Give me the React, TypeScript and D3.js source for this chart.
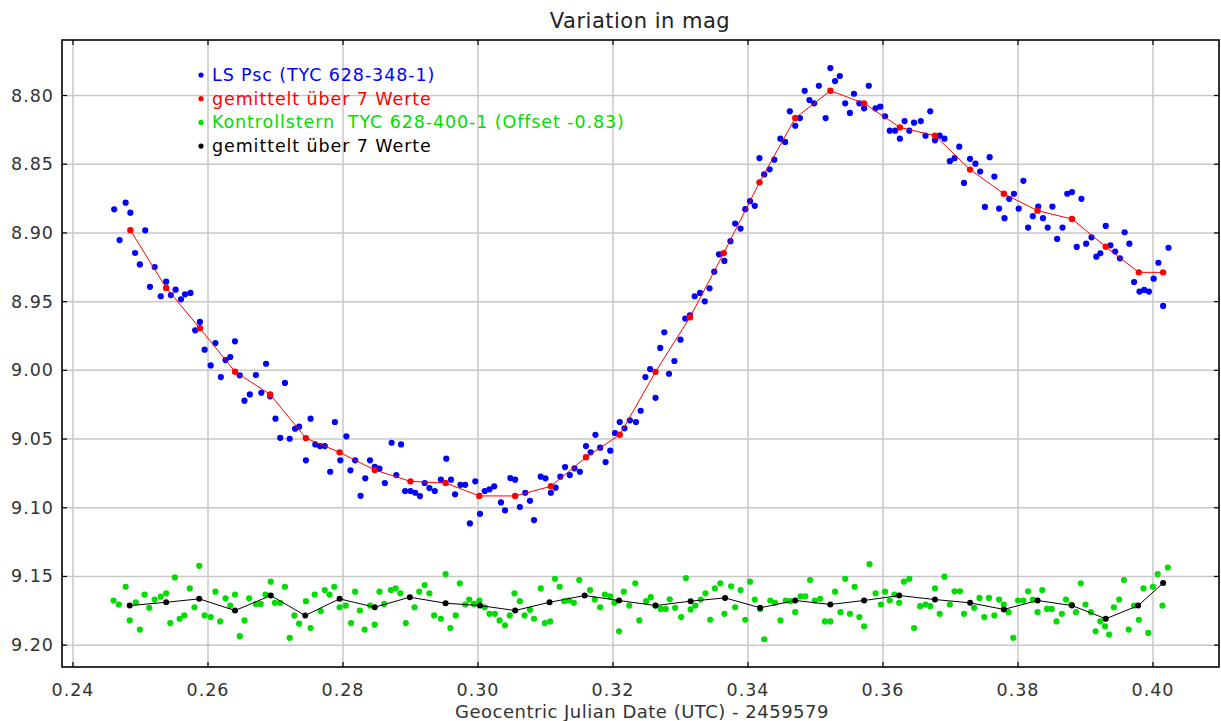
import * as React from 'react'
import * as d3 from 'd3'

// LS Psc, einzelne Messungen
const blueT = [
  0.2461, 0.2469, 0.2478, 0.2485, 0.2492, 0.2499, 0.2507, 0.2514, 0.2521, 0.2530,
  0.2538, 0.2545, 0.2552, 0.2560, 0.2566, 0.2574, 0.2581, 0.2588, 0.2595, 0.2604,
  0.2611, 0.2619, 0.2626, 0.2633, 0.2640, 0.2647, 0.2654, 0.2662, 0.2671, 0.2679,
  0.2686, 0.2692, 0.2700, 0.2707, 0.2714, 0.2721, 0.2729, 0.2735, 0.2745, 0.2752,
  0.2759, 0.2766, 0.2773, 0.2781, 0.2788, 0.2796, 0.2805, 0.2811, 0.2818, 0.2826,
  0.2833, 0.2840, 0.2847, 0.2854, 0.2862, 0.2872, 0.2879, 0.2886, 0.2892, 0.2900,
  0.2907, 0.2914, 0.2921, 0.2928, 0.2936, 0.2945, 0.2953, 0.2960, 0.2966, 0.2974,
  0.2981, 0.2988, 0.2996, 0.3003, 0.3010, 0.3017, 0.3024, 0.3034, 0.3040, 0.3048,
  0.3055, 0.3062, 0.3070, 0.3077, 0.3083, 0.3093, 0.3100, 0.3108, 0.3115, 0.3122,
  0.3129, 0.3136, 0.3143, 0.3151, 0.3160, 0.3167, 0.3174, 0.3181, 0.3189, 0.3196,
  0.3203, 0.3210, 0.3217, 0.3225, 0.3234, 0.3241, 0.3248, 0.3255, 0.3263, 0.3270,
  0.3276, 0.3283, 0.3291, 0.3300, 0.3307, 0.3314, 0.3321, 0.3329, 0.3336, 0.3343,
  0.3350, 0.3357, 0.3365, 0.3374, 0.3381, 0.3389, 0.3396, 0.3403, 0.3410, 0.3417,
  0.3424, 0.3432, 0.3439, 0.3448, 0.3455, 0.3462, 0.3470, 0.3477, 0.3484, 0.3491,
  0.3498, 0.3505, 0.3515, 0.3522, 0.3529, 0.3536, 0.3544, 0.3551, 0.3557, 0.3565,
  0.3572, 0.3579, 0.3589, 0.3596, 0.3603, 0.3610, 0.3618, 0.3625, 0.3632, 0.3639,
  0.3646, 0.3656, 0.3663, 0.3670, 0.3677, 0.3684, 0.3691, 0.3699, 0.3706, 0.3713,
  0.3720, 0.3729, 0.3737, 0.3744, 0.3751, 0.3758, 0.3765, 0.3772, 0.3780, 0.3787,
  0.3794, 0.3801, 0.3808, 0.3815, 0.3822, 0.3830, 0.3837, 0.3844, 0.3851, 0.3858,
  0.3866, 0.3873, 0.3880, 0.3887, 0.3894, 0.3901, 0.3909, 0.3916, 0.3922, 0.3930,
  0.3937, 0.3944, 0.3951, 0.3958, 0.3965, 0.3972, 0.3980, 0.3987, 0.3994, 0.4001,
  0.4008, 0.4015, 0.4023,
]
const blueMag = [
  8.8828, 8.9052, 8.8780, 8.8853, 8.9146, 8.9229, 8.8981, 8.9392, 8.9248, 8.9461,
  8.9355, 8.9452, 8.9413, 8.9483, 8.9447, 8.9437, 8.9709, 8.9648, 8.9850, 8.9964,
  8.9801, 9.0049, 8.9925, 8.9903, 8.9789, 9.0036, 9.0221, 9.0175, 9.0034, 9.0163,
  8.9952, 9.0189, 9.0352, 9.0491, 9.0092, 9.0498, 9.0425, 9.0410, 9.0655, 9.0352,
  9.0539, 9.0551, 9.0551, 9.0738, 9.0376, 9.0655, 9.0480, 9.0728, 9.0655, 9.0913,
  9.0786, 9.0655, 9.0702, 9.0716, 9.0820, 9.0527, 9.0762, 9.0539, 9.0878, 9.0878,
  9.0891, 9.0915, 9.0820, 9.0857, 9.0878, 9.0796, 9.0643, 9.0796, 9.0902, 9.0833,
  9.0833, 9.1114, 9.0808, 9.1044, 9.0878, 9.0866, 9.0844, 9.0961, 9.1019, 9.0784,
  9.0796, 9.0995, 9.0891, 9.0949, 9.1090, 9.0774, 9.0786, 9.0891, 9.0854, 9.0774,
  9.0704, 9.0762, 9.0713, 9.0738, 9.0551, 9.0597, 9.0469, 9.0563, 9.0667, 9.0585,
  9.0456, 9.0376, 9.0422, 9.0364, 9.0376, 9.0294, 9.0049, 8.9991, 9.0200, 8.9837,
  8.9723, 9.0025, 8.9932, 8.9777, 8.9623, 8.9599, 8.9461, 8.9437, 8.9498, 8.9403,
  8.9282, 8.9156, 8.9204, 8.9060, 8.8932, 8.8968, 8.8827, 8.8769, 8.8803, 8.8455,
  8.8574, 8.8537, 8.8467, 8.8314, 8.8338, 8.8115, 8.8220, 8.8164, 8.7966, 8.8033,
  8.8057, 8.7929, 8.8164, 8.7800, 8.7895, 8.7858, 8.8057, 8.8127, 8.7987, 8.8057,
  8.8093, 8.7929, 8.8093, 8.8081, 8.8151, 8.8256, 8.8256, 8.8314, 8.8186, 8.8256,
  8.8198, 8.8186, 8.8292, 8.8115, 8.8326, 8.8292, 8.8314, 8.8478, 8.8456, 8.8372,
  8.8636, 8.8461, 8.8496, 8.8553, 8.8811, 8.8449, 8.8590, 8.8823, 8.8893, 8.8752,
  8.8715, 8.8823, 8.8621, 8.8961, 8.8878, 8.8808, 8.8893, 8.8961, 8.8808, 8.9044,
  8.8961, 8.8715, 8.8703, 8.9102, 8.8752, 8.9078, 8.9032, 8.9173, 8.9149, 8.8949,
  8.9090, 8.9136, 8.9185, 8.8995, 8.9078, 8.9357, 8.9427, 8.9415, 8.9427, 8.9333,
  8.9217, 8.9531, 8.9108,
]

// gemittelt ueber 7 Werte (LS Psc)
const redT = [
  0.2485, 0.2538, 0.2588, 0.2640, 0.2692, 0.2745, 0.2795, 0.2847, 0.2900, 0.2952,
  0.3002, 0.3055, 0.3108, 0.3160, 0.3210, 0.3263, 0.3314, 0.3364, 0.3417, 0.3470,
  0.3522, 0.3572, 0.3625, 0.3677, 0.3729, 0.3779, 0.3829, 0.3880, 0.3930, 0.3979,
  0.4015,
]
const redMag = [
  8.8980, 8.9400, 8.9694, 9.0010, 9.0175, 9.0493, 9.0597, 9.0725, 9.0808, 9.0820,
  9.0914, 9.0914, 9.0844, 9.0633, 9.0469, 9.0011, 8.9614, 8.9148, 8.8632, 8.8164,
  8.7965, 8.8057, 8.8232, 8.8292, 8.8539, 8.8715, 8.8838, 8.8899, 8.9101, 8.9287,
  8.9287,
]

// Kontrollstern TYC 628-400-1 (Offset -0.83)
const greenT = [
  0.2460, 0.2468, 0.2478, 0.2484, 0.2493, 0.2499, 0.2506, 0.2513, 0.2521, 0.2530,
  0.2538, 0.2544, 0.2551, 0.2558, 0.2565, 0.2573, 0.2580, 0.2587, 0.2595, 0.2604,
  0.2611, 0.2618, 0.2626, 0.2633, 0.2640, 0.2647, 0.2654, 0.2661, 0.2671, 0.2678,
  0.2685, 0.2693, 0.2699, 0.2707, 0.2714, 0.2721, 0.2728, 0.2735, 0.2745, 0.2752,
  0.2758, 0.2767, 0.2773, 0.2780, 0.2787, 0.2795, 0.2804, 0.2812, 0.2818, 0.2825,
  0.2832, 0.2840, 0.2847, 0.2854, 0.2861, 0.2871, 0.2878, 0.2885, 0.2893, 0.2906,
  0.2913, 0.2921, 0.2928, 0.2935, 0.2945, 0.2952, 0.2959, 0.2967, 0.2973, 0.2981,
  0.2987, 0.2994, 0.3002, 0.3010, 0.3017, 0.3025, 0.3032, 0.3040, 0.3047, 0.3054,
  0.3062, 0.3069, 0.3077, 0.3083, 0.3093, 0.3099, 0.3107, 0.3114, 0.3121, 0.3128,
  0.3135, 0.3142, 0.3150, 0.3166, 0.3173, 0.3181, 0.3188, 0.3196, 0.3202, 0.3209,
  0.3216, 0.3224, 0.3233, 0.3239, 0.3249, 0.3256, 0.3263, 0.3271, 0.3278, 0.3284,
  0.3292, 0.3301, 0.3308, 0.3315, 0.3322, 0.3330, 0.3337, 0.3344, 0.3351, 0.3359,
  0.3365, 0.3375, 0.3381, 0.3389, 0.3396, 0.3403, 0.3410, 0.3418, 0.3424, 0.3433,
  0.3440, 0.3448, 0.3456, 0.3463, 0.3470, 0.3478, 0.3485, 0.3492, 0.3499, 0.3507,
  0.3514, 0.3522, 0.3529, 0.3537, 0.3544, 0.3551, 0.3558, 0.3565, 0.3572, 0.3580,
  0.3589, 0.3597, 0.3603, 0.3610, 0.3617, 0.3624, 0.3631, 0.3639, 0.3646, 0.3655,
  0.3663, 0.3670, 0.3677, 0.3684, 0.3691, 0.3699, 0.3706, 0.3714, 0.3720, 0.3735,
  0.3743, 0.3750, 0.3757, 0.3765, 0.3772, 0.3779, 0.3786, 0.3793, 0.3800, 0.3808,
  0.3815, 0.3822, 0.3829, 0.3836, 0.3843, 0.3850, 0.3857, 0.3865, 0.3871, 0.3879,
  0.3886, 0.3893, 0.3900, 0.3908, 0.3915, 0.3922, 0.3929, 0.3935, 0.3942, 0.3950,
  0.3957, 0.3964, 0.3972, 0.3979, 0.3986, 0.3993, 0.4000, 0.4007, 0.4014, 0.4022,
]
const greenMag = [
  9.1675, 9.1704, 9.1575, 9.1820, 9.1688, 9.1887, 9.1632, 9.1728, 9.1668, 9.1647,
  9.1623, 9.1839, 9.1507, 9.1808, 9.1784, 9.1587, 9.1724, 9.1423, 9.1784, 9.1796,
  9.1611, 9.1827, 9.1659, 9.1712, 9.1632, 9.1935, 9.1820, 9.1659, 9.1700, 9.1700,
  9.1632, 9.1538, 9.1692, 9.1692, 9.1575, 9.1947, 9.1784, 9.1844, 9.1680, 9.1875,
  9.1632, 9.1752, 9.1599, 9.1632, 9.1575, 9.1724, 9.1712, 9.1839, 9.1611, 9.1748,
  9.1887, 9.1712, 9.1851, 9.1611, 9.1700, 9.1599, 9.1587, 9.1623, 9.1839, 9.1724,
  9.1611, 9.1563, 9.1623, 9.1784, 9.1808, 9.1483, 9.1875, 9.1784, 9.1550, 9.1704,
  9.1668, 9.1700, 9.1675, 9.1724, 9.1772, 9.1772, 9.1820, 9.1856, 9.1784, 9.1623,
  9.1680, 9.1784, 9.1743, 9.1808, 9.1587, 9.1839, 9.1827, 9.1517, 9.1575, 9.1680,
  9.1675, 9.1692, 9.1526, 9.1599, 9.1668, 9.1724, 9.1632, 9.1644, 9.1692, 9.1899,
  9.1611, 9.1712, 9.1550, 9.1820, 9.1680, 9.1651, 9.1712, 9.1736, 9.1736, 9.1666,
  9.1728, 9.1796, 9.1512, 9.1740, 9.1712, 9.1668, 9.1623, 9.1815, 9.1587, 9.1550,
  9.1772, 9.1572, 9.1724, 9.1599, 9.1815, 9.1538, 9.1668, 9.1736, 9.1957, 9.1675,
  9.1692, 9.1820, 9.1675, 9.1680, 9.1760, 9.1644, 9.1644, 9.1526, 9.1675, 9.1663,
  9.1827, 9.1827, 9.1611, 9.1760, 9.1517, 9.1772, 9.1575, 9.1796, 9.1863, 9.1411,
  9.1623, 9.1704, 9.1611, 9.1675, 9.1632, 9.1692, 9.1538, 9.1517, 9.1875, 9.1716,
  9.1704, 9.1716, 9.1587, 9.1772, 9.1502, 9.1704, 9.1608, 9.1608, 9.1772, 9.1728,
  9.1656, 9.1796, 9.1656, 9.1784, 9.1668, 9.1704, 9.1760, 9.1947, 9.1675, 9.1675,
  9.1608, 9.1668, 9.1760, 9.1599, 9.1736, 9.1736, 9.1827, 9.1772, 9.1668, 9.1704,
  9.1760, 9.1550, 9.1704, 9.1760, 9.1899, 9.1827, 9.1863, 9.1923, 9.1724, 9.1668,
  9.1526, 9.1887, 9.1712, 9.1815, 9.1587, 9.1911, 9.1575, 9.1483, 9.1712, 9.1435,
]

// gemittelt ueber 7 Werte (Kontrollstern)
const blackT = [
  0.2484, 0.2538, 0.2587, 0.2640, 0.2693, 0.2744, 0.2795, 0.2847, 0.2899, 0.2952,
  0.3003, 0.3055, 0.3106, 0.3158, 0.3209, 0.3263, 0.3315, 0.3366, 0.3418, 0.3470,
  0.3522, 0.3572, 0.3624, 0.3677, 0.3729, 0.3779, 0.3829, 0.3880, 0.3930, 0.3978,
  0.4015,
]
const blackMag = [
  9.1712, 9.1688, 9.1663, 9.1748, 9.1639, 9.1784, 9.1663, 9.1724, 9.1651, 9.1695,
  9.1712, 9.1748, 9.1688, 9.1639, 9.1675, 9.1712, 9.1680, 9.1656, 9.1728, 9.1675,
  9.1704, 9.1675, 9.1639, 9.1668, 9.1692, 9.1740, 9.1675, 9.1712, 9.1808, 9.1712,
  9.1548,
]

const xTicks = [0.24, 0.26, 0.28, 0.3, 0.32, 0.34, 0.36, 0.38, 0.4]
const yTicks = [8.8, 8.85, 8.9, 8.95, 9.0, 9.05, 9.1, 9.15, 9.2]

const legendItems = [
  { label: 'LS Psc (TYC 628-348-1)', color: '#0000ff' },
  { label: 'gemittelt über 7 Werte', color: '#ff0000' },
  { label: 'Kontrollstern  TYC 628-400-1 (Offset -0.83)', color: '#00dd00' },
  { label: 'gemittelt über 7 Werte', color: '#000000' },
]

const W = 1221
const H = 721
const left = 62
const right = 1219
const top = 40
const bottom = 667
const FONT = '"DejaVu Sans", sans-serif'

const App: React.FC = () => {
  const x = d3.scaleLinear().domain([0.23837, 0.40978]).range([left, right])
  const y = d3.scaleLinear().domain([8.7596, 9.2159]).range([top, bottom])

  const line = d3.line<[number, number]>()
    .x(d => x(d[0]))
    .y(d => y(d[1]))

  const red: [number, number][] = redT.map((t, i) => [t, redMag[i]])
  const black: [number, number][] = blackT.map((t, i) => [t, blackMag[i]])

  return (
    <svg width={W} height={H} style={{ position: 'absolute', left: 0, top: 0, background: '#fff' }}>
      <rect x={0} y={0} width={W} height={H} fill="#fff" />
      <text x={640} y={28} textAnchor="middle" fontFamily={FONT} fontSize={21} letterSpacing={0.5} fill="#222">
        Variation in mag
      </text>

      {/* grid */}
      <g stroke="#c8c8c8" strokeWidth={1.5}>
        {xTicks.map(t => (
          <line key={'gx' + t} x1={x(t)} x2={x(t)} y1={top} y2={bottom} />
        ))}
        {yTicks.map(t => (
          <line key={'gy' + t} x1={left} x2={right} y1={y(t)} y2={y(t)} />
        ))}
      </g>

      {/* inner tick marks */}
      <g stroke="#000" strokeWidth={1.2}>
        {xTicks.map(t => (
          <g key={'tx' + t}>
            <line x1={x(t)} x2={x(t)} y1={bottom} y2={bottom - 5} />
            <line x1={x(t)} x2={x(t)} y1={top} y2={top + 5} />
          </g>
        ))}
        {yTicks.map(t => (
          <g key={'ty' + t}>
            <line x1={left} x2={left + 5} y1={y(t)} y2={y(t)} />
            <line x1={right} x2={right - 5} y1={y(t)} y2={y(t)} />
          </g>
        ))}
      </g>

      {/* data points */}
      <g fill="#00dd00">
        {greenT.map((t, i) => (
          <circle key={'g' + i} cx={x(t)} cy={y(greenMag[i])} r={3.1} />
        ))}
      </g>
      <g fill="#0000ff">
        {blueT.map((t, i) => (
          <circle key={'b' + i} cx={x(t)} cy={y(blueMag[i])} r={3.1} />
        ))}
      </g>

      {/* averages */}
      <path d={line(black) ?? ''} fill="none" stroke="#000" strokeWidth={1} />
      <g fill="#000">
        {black.map((d, i) => (
          <circle key={'k' + i} cx={x(d[0])} cy={y(d[1])} r={3} />
        ))}
      </g>
      <path d={line(red) ?? ''} fill="none" stroke="#ff0000" strokeWidth={1} />
      <g fill="#ff0000">
        {red.map((d, i) => (
          <circle key={'r' + i} cx={x(d[0])} cy={y(d[1])} r={3.2} />
        ))}
      </g>

      {/* frame */}
      <rect x={left} y={top} width={right - left} height={bottom - top} fill="none" stroke="#000" strokeWidth={1.6} />

      {/* tick labels */}
      <g fontFamily={FONT} fontSize={17.5} letterSpacing={1} fill="#333">
        {xTicks.map(t => (
          <text key={'lx' + t} x={x(t)} y={696} textAnchor="middle">{d3.format('.2f')(t)}</text>
        ))}
        {yTicks.map(t => (
          <text key={'ly' + t} x={54} y={y(t) + 6} textAnchor="end">{d3.format('.2f')(t)}</text>
        ))}
      </g>
      <text x={642} y={718} textAnchor="middle" fontFamily={FONT} fontSize={18} letterSpacing={0.5} fill="#333">
        Geocentric Julian Date (UTC) - 2459579
      </text>

      {/* legend */}
      <g fontFamily={FONT} fontSize={17.5} letterSpacing={0.9}>
        {legendItems.map((it, i) => (
          <g key={'lg' + i} transform={`translate(201, ${75 + i * 23.7})`}>
            <circle cx={0} cy={0} r={2.6} fill={it.color} />
            <text x={11} y={6} fill={it.color} style={{ whiteSpace: 'pre' }}>{it.label}</text>
          </g>
        ))}
      </g>
    </svg>
  )
}

export default App
